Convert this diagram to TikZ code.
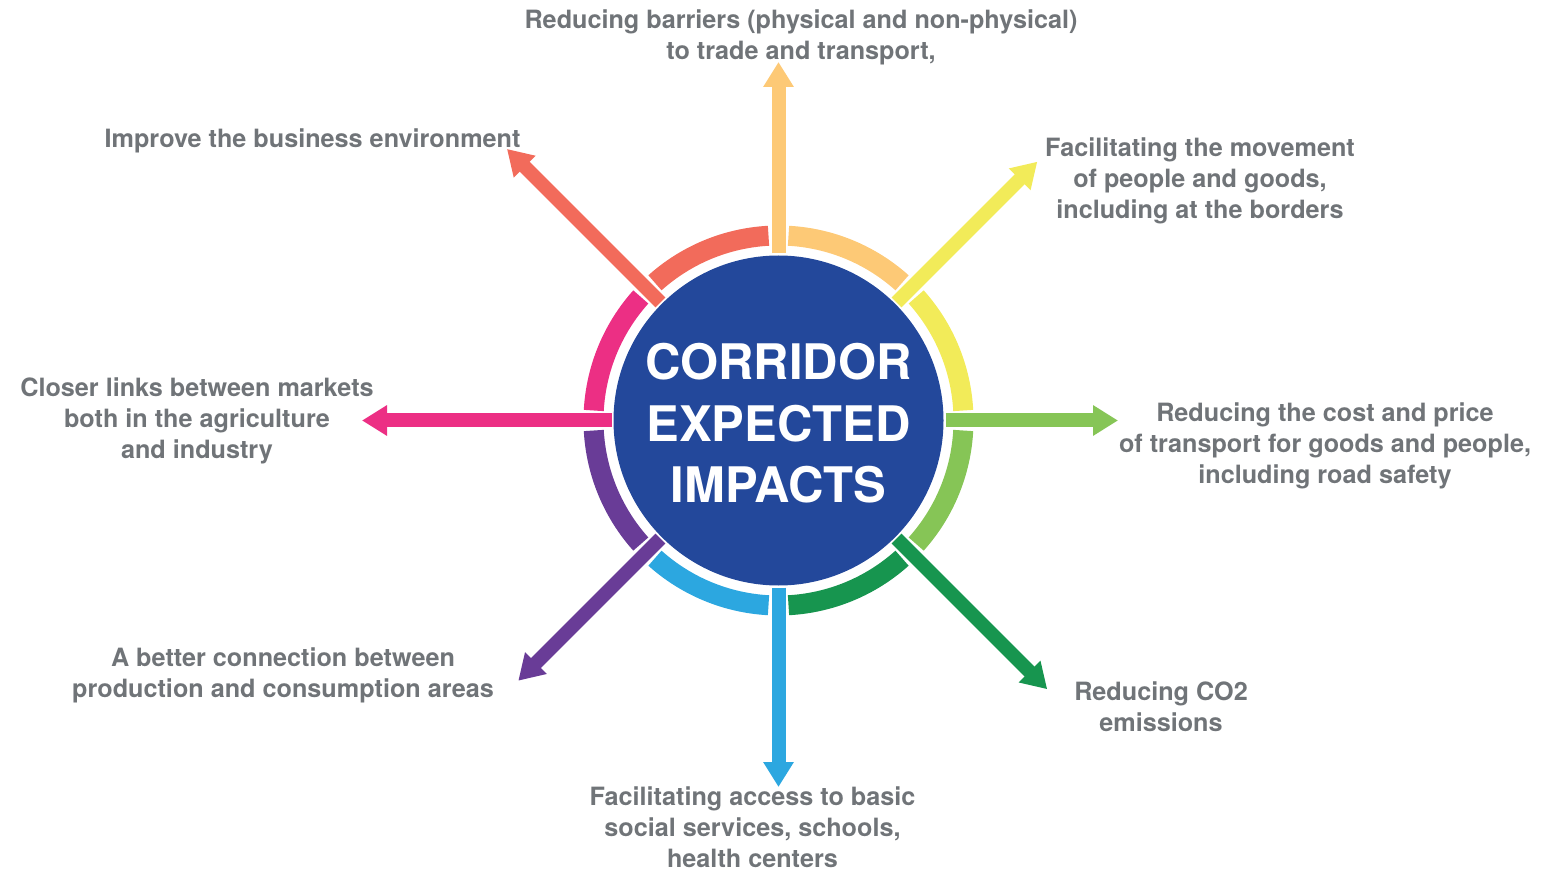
\documentclass[tikz,border=0pt]{standalone}
\usepackage{fontspec}
\setmainfont{TeX Gyre Heros}
\usetikzlibrary{arrows.meta,calc}

\definecolor{corRed}{HTML}{F26B5B}
\definecolor{corOrange}{HTML}{FDC976}
\definecolor{corYellow}{HTML}{F2EB59}
\definecolor{corLime}{HTML}{86C556}
\definecolor{corGreen}{HTML}{17954F}
\definecolor{corBlue}{HTML}{2CA7E0}
\definecolor{corPurple}{HTML}{693C97}
\definecolor{corPink}{HTML}{EC2F84}
\definecolor{corNavy}{HTML}{23489B}
\definecolor{labelGray}{HTML}{707478}

\begin{document}
\begin{tikzpicture}[x=1pt,y=1pt,
  ringarc/.style={line width=20pt},
  spoke/.style={line width=14pt, -{Triangle[width=29pt,length=25pt]}},
  impact/.style={font=\fontsize{25.2}{31}\selectfont\bfseries, text=labelGray,
    align=center, inner sep=0pt, anchor=north,
    execute at begin node={\rule{0pt}{20pt}},
    execute at end node={\rule[-6pt]{0pt}{6pt}}},
  headline/.style={font=\fontsize{49}{61.5}\selectfont\bfseries, text=white,
    align=center, inner sep=0pt, anchor=north,
    execute at begin node={\rule{0pt}{40pt}}}
]
\useasboundingbox (0,0) rectangle (1553,-874);

\coordinate (c) at (778.5,-420.5);

% central disc
\node (hub) [circle, fill=corNavy, minimum size=330pt, inner sep=0pt] at (c) {};

% coloured ring, cut around each spoke
\foreach \a/\col in {90/corOrange, 45/corYellow, 0/corLime, -45/corGreen,
                     -90/corBlue, -135/corPurple, 180/corPink, 135/corRed}{
  \draw[ringarc, \col] ($(c)+(\a-45+3.1:185)$) arc[start angle=\a-45+3.1, end angle=\a-3.1, radius=185];
}

% spokes
\foreach \a/\r/\col/\n in {90/358.5/corOrange/n, 45/366/corYellow/ne, 0/339.5/corLime/e,
                           -45/380/corGreen/se, -90/366.5/corBlue/s, -135/368/corPurple/sw,
                           180/416.5/corPink/w, 135/384/corRed/nw}{
  \coordinate (from-\n) at ($(c)+(\a:167)$);
  \coordinate (to-\n) at ($(c)+(\a:\r)$);
  \draw[spoke, \col] (from-\n) -- (to-\n);
}

% title
\node (title) [headline] at (778.5,-343) {CORRIDOR\\EXPECTED\\IMPACTS};

% impact labels
\node (lab-n)  [impact] at (801,-9.5)    {Reducing barriers (physical and non-physical)\\to trade and transport,};
\node (lab-nw) [impact] at (312.5,-127) {Improve the business environment};
\node (lab-ne) [impact] at (1200,-137.5) {Facilitating the movement\\of people and goods,\\including at the borders};
\node (lab-w)  [impact] at (197,-378)  {Closer links between markets\\both in the agriculture\\and industry};
\node (lab-e)  [impact] at (1325,-402.5) {Reducing the cost and price\\of transport for goods and people,\\including road safety};
\node (lab-sw) [impact] at (283,-647.5)  {A better connection between\\production and consumption areas};
\node (lab-se) [impact] at (1161,-682) {Reducing CO2\\emissions};
\node (lab-s)  [impact] at (752.5,-787) {Facilitating access to basic\\social services, schools,\\health centers};
\end{tikzpicture}
\end{document}
